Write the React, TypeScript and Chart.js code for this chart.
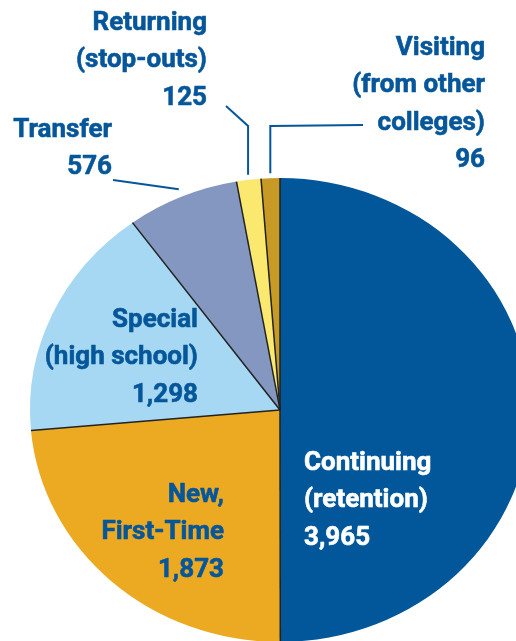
import React, { useEffect, useRef } from 'react';
import { Chart, registerables } from 'chart.js';

Chart.register(...registerables);

// ---- data ----
const categories = [
  'Continuing (retention)',
  'New, First-Time',
  'Special (high school)',
  'Transfer',
  'Returning (stop-outs)',
  'Visiting (from other colleges)',
];
const labelLines = [
  ['Continuing', '(retention)'],
  ['New,', 'First-Time'],
  ['Special', '(high school)'],
  ['Transfer'],
  ['Returning', '(stop-outs)'],
  ['Visiting', '(from other', 'colleges)'],
];
const values = [3965, 1873, 1298, 576, 125, 96];

// ---- styles ----
const sliceColors = ['#02569A', '#ECA922', '#A6D8F3', '#8497C1', '#FBE86E', '#C79A25'];
const TEXT = '#06569A';
const FONT = 'bold 26px Roboto, "Noto Sans", sans-serif';
const LINE_H = 37.4;
const RX = 250;
const RY = 232;
const STRETCH = RX / RY;

const labelPlacement = [
  { x: 304, y: 470, align: 'left', color: '#FFFFFF' },
  { x: 224, y: 502, align: 'right', color: TEXT },
  { x: 198, y: 327, align: 'right', color: TEXT },
  { x: 112, y: 137, align: 'right', color: TEXT },
  { x: 207, y: 30, align: 'right', color: TEXT },
  { x: 485, y: 55, align: 'right', color: TEXT },
];

const leaders: any[] = [
  null,
  null,
  null,
  { from: [113, 180], elbowY: null, gap: 8 },
  { from: [226, 106], elbowY: 126, gap: 5 },
  { from: [363, 125], elbowY: 126, gap: 5 },
];

const piePlugin = {
  id: 'ellipsePie',
  beforeDatasetsDraw(chart: any) {
    const arc = chart.getDatasetMeta(0).data[0];
    const { x, y } = arc.getProps(['x', 'y'], true);
    const ctx = chart.ctx;
    ctx.save();
    ctx.translate(x, y);
    ctx.scale(STRETCH, 1);
    ctx.translate(-x, -y);
  },
  afterDatasetsDraw(chart: any) {
    const ctx = chart.ctx;
    const meta = chart.getDatasetMeta(0);
    ctx.strokeStyle = '#222222';
    ctx.lineWidth = 1.4;
    meta.data.forEach((el: any) => {
      const { x, y, startAngle, outerRadius } = el.getProps(['x', 'y', 'startAngle', 'outerRadius'], true);
      ctx.beginPath();
      ctx.moveTo(x, y);
      ctx.lineTo(x + outerRadius * Math.cos(startAngle), y + outerRadius * Math.sin(startAngle));
      ctx.stroke();
    });
    ctx.restore();

    // leader lines
    ctx.save();
    ctx.strokeStyle = TEXT;
    ctx.lineWidth = 2;
    meta.data.forEach((el: any, i: number) => {
      const ld = leaders[i];
      if (!ld) return;
      const { x, y, startAngle, endAngle, outerRadius } = el.getProps(
        ['x', 'y', 'startAngle', 'endAngle', 'outerRadius'],
        true
      );
      const a = (startAngle + endAngle) / 2;
      const ex = x + (outerRadius * STRETCH + ld.gap) * Math.cos(a);
      const ey = y + (outerRadius + ld.gap) * Math.sin(a);
      ctx.beginPath();
      ctx.moveTo(ld.from[0], ld.from[1]);
      if (ld.elbowY !== null) ctx.lineTo(ex, ld.elbowY);
      ctx.lineTo(ex, ey);
      ctx.stroke();
    });
    ctx.restore();

    // labels
    ctx.save();
    ctx.font = FONT;
    ctx.textBaseline = 'alphabetic';
    ctx.lineWidth = 0.6;
    ctx.lineJoin = 'round';
    meta.data.forEach((_el: any, i: number) => {
      const p = labelPlacement[i];
      const lines = [...labelLines[i], values[i].toLocaleString('en-US')];
      ctx.fillStyle = p.color;
      ctx.strokeStyle = p.color;
      ctx.textAlign = p.align;
      lines.forEach((t, k) => {
        ctx.fillText(t, p.x, p.y + k * LINE_H);
        ctx.strokeText(t, p.x, p.y + k * LINE_H);
      });
    });
    ctx.restore();
  },
};

export default function App() {
  const ref = useRef<HTMLCanvasElement | null>(null);
  useEffect(() => {
    if (!ref.current) return;
    const chart = new Chart(ref.current, {
      type: 'pie',
      data: {
        labels: categories,
        datasets: [
          {
            data: values,
            backgroundColor: sliceColors,
            borderWidth: 0,
            hoverOffset: 0,
            offset: 0,
            radius: RY,
          } as any,
        ],
      },
      options: {
        responsive: false,
        animation: false,
        events: [],
        layout: { padding: { left: 48, right: 4, top: 178, bottom: 18 } },
        plugins: {
          legend: { display: false },
          tooltip: { enabled: false },
        },
      },
      plugins: [piePlugin],
    });
    return () => chart.destroy();
  }, []);
  return (
    <div
      style={{
        position: 'absolute',
        left: 0,
        top: 0,
        width: 516,
        height: 641,
        overflow: 'hidden',
        background: '#ffffff',
      }}
    >
      <canvas ref={ref} width={516} height={660} style={{ display: 'block' }} />
    </div>
  );
}
